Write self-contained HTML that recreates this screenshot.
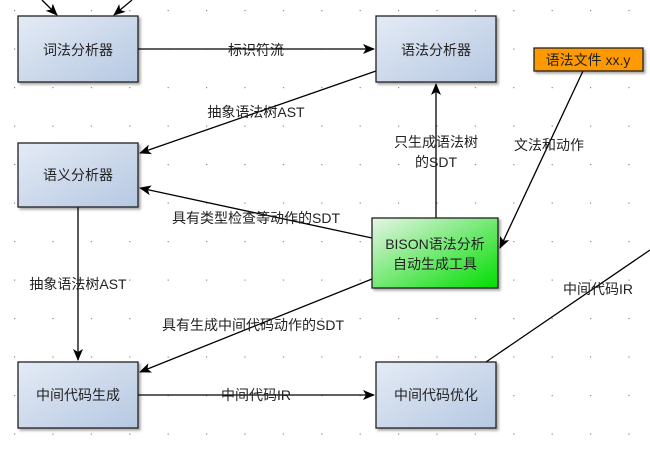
<!DOCTYPE html>
<html><head><meta charset="utf-8"><style>
html,body{margin:0;padding:0;background:#fff;}
text{font-family:"Liberation Sans","Noto Sans CJK SC",sans-serif;font-size:14px;}
</style></head><body>
<svg width="650" height="446" xmlns="http://www.w3.org/2000/svg">
<defs>
<pattern id="g" x="14" y="10" width="38.4" height="38.5" patternUnits="userSpaceOnUse"><rect width="1.2" height="1.2" fill="#888"/></pattern>
<linearGradient id="b" x1="0" y1="0" x2="1" y2="1"><stop offset="0" stop-color="#e4ebf5"/><stop offset="1" stop-color="#b6c8e2"/></linearGradient>
<linearGradient id="gr" x1="0" y1="0" x2="1" y2="1"><stop offset="0" stop-color="#e8f5e8"/><stop offset="1" stop-color="#00dd00"/></linearGradient>
<filter id="s"><feDropShadow dx="2" dy="2" stdDeviation="1.2" flood-color="#000" flood-opacity="0.35"/></filter>
<marker id="a" markerWidth="12" markerHeight="10" refX="11" refY="5" orient="auto" markerUnits="userSpaceOnUse"><path d="M0,0 L12,5 L0,10 L3,5 Z" fill="#000"/></marker>
</defs>
<rect width="650" height="446" fill="url(#g)"/>
<g stroke="#000" stroke-width="1.3" fill="none">
<line x1="42" y1="0" x2="57" y2="15" marker-end="url(#a)"/>
<line x1="132" y1="0" x2="114" y2="15" marker-end="url(#a)"/>
<line x1="138" y1="49" x2="374" y2="49" marker-end="url(#a)"/>
<line x1="376" y1="71" x2="140" y2="153" marker-end="url(#a)"/>
<line x1="372" y1="238" x2="140" y2="188" marker-end="url(#a)"/>
<line x1="436" y1="218" x2="436" y2="84" marker-end="url(#a)"/>
<line x1="583" y1="71" x2="500" y2="248" marker-end="url(#a)"/>
<line x1="78" y1="207" x2="78" y2="360" marker-end="url(#a)"/>
<line x1="372" y1="279" x2="140" y2="372" marker-end="url(#a)"/>
<line x1="138" y1="395" x2="374" y2="395" marker-end="url(#a)"/>
<line x1="486" y1="362" x2="650" y2="250"/>
</g>
<g stroke="#222" stroke-width="1.3" filter="url(#s)">
<rect x="18" y="16" width="120" height="66" fill="url(#b)"/>
<rect x="18" y="143" width="120" height="64" fill="url(#b)"/>
<rect x="376" y="16" width="120" height="66" fill="url(#b)"/>
<rect x="534" y="48" width="109" height="23" fill="#ff9900"/>
<rect x="372" y="218" width="126" height="70" fill="url(#gr)"/>
<rect x="18" y="362" width="120" height="66" fill="url(#b)"/>
<rect x="376" y="362" width="120" height="66" fill="url(#b)"/>
</g>
<g text-anchor="middle" fill="#222">
<text x="78" y="55">词法分析器</text>
<text x="78" y="180">语义分析器</text>
<text x="436" y="55">语法分析器</text>
<text x="588" y="65">语法文件 xx.y</text>
<text x="435" y="249">BISON语法分析</text>
<text x="435" y="269">自动生成工具</text>
<text x="78" y="400">中间代码生成</text>
<text x="436" y="400">中间代码优化</text>
<text x="256" y="55">标识符流</text>
<text x="256" y="117">抽象语法树AST</text>
<text x="256" y="223">具有类型检查等动作的SDT</text>
<text x="436" y="147">只生成语法树</text>
<text x="436" y="167">的SDT</text>
<text x="549" y="150">文法和动作</text>
<text x="78" y="289">抽象语法树AST</text>
<text x="253" y="330">具有生成中间代码动作的SDT</text>
<text x="256" y="400">中间代码IR</text>
<text x="598" y="294">中间代码IR</text>
</g>
</svg>
</body></html>
